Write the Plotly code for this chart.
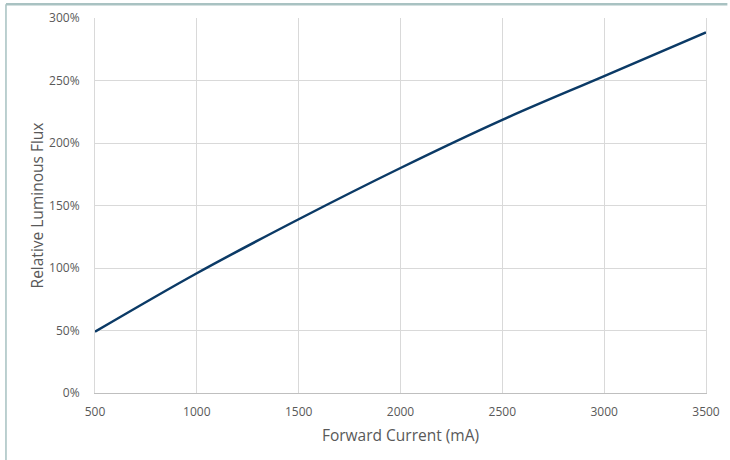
import plotly.graph_objects as go

# 读取的数据点
current_ma = [500, 1000, 1500, 2000, 2500, 3000, 3500]
rel_flux_pct = [49, 95.8, 139, 180, 218.5, 253.5, 288.5]

x_ticks = [500, 1000, 1500, 2000, 2500, 3000, 3500]
y_ticks = [0, 50, 100, 150, 200, 250, 300]
y_tick_text = [f"{v}%" for v in y_ticks]

fig = go.Figure()
fig.add_trace(go.Scatter(
    x=current_ma,
    y=rel_flux_pct,
    mode="lines",
    line=dict(color="#0b3a66", width=2.5, shape="spline", smoothing=1),
    showlegend=False,
))

# 外框（左侧和顶部的细线）
fig.add_shape(type="line", xref="paper", yref="paper",
              x0=-0.1457, x1=-0.1457, y0=-0.2, y1=1.037,
              line=dict(color="#8fb0b0", width=1.2))
fig.add_shape(type="line", xref="paper", yref="paper",
              x0=-0.1457, x1=1.035, y0=1.037, y1=1.037,
              line=dict(color="#a9c2c2", width=2.5))

fig.update_xaxes(
    range=[500, 3500],
    tickvals=x_ticks,
    showgrid=True, gridcolor="#d9d9d9", gridwidth=1,
    showline=True, linecolor="#bfbfbf", linewidth=1,
    zeroline=False, automargin=False,
    ticks="", ticklabelstandoff=8,
    tickfont=dict(size=12, color="#595959"),
    title=dict(text="Forward Current (mA)", font=dict(size=15.5, color="#595959"), standoff=10),
)
fig.update_yaxes(
    range=[0, 300],
    tickvals=y_ticks,
    ticktext=y_tick_text,
    showgrid=True, gridcolor="#d9d9d9", gridwidth=1,
    showline=True, linecolor="#d9d9d9", linewidth=1, mirror=True,
    zeroline=False, automargin=False,
    ticks="", ticklabelstandoff=12,
    tickfont=dict(size=12, color="#595959"),
    title=dict(text="Relative Luminous Flux", font=dict(size=15.5, color="#595959"), standoff=1),
)

fig.update_layout(
    width=730,
    height=460,
    margin=dict(l=95, r=24, t=18, b=67),
    font=dict(family="Open Sans", color="#595959"),
    plot_bgcolor="white",
    paper_bgcolor="white",
)

# 去掉页面默认边距，让图表从窗口左上角开始
fig.write_html("out.html", config={"displayModeBar": False},
               post_script="document.body.style.margin='0';")
